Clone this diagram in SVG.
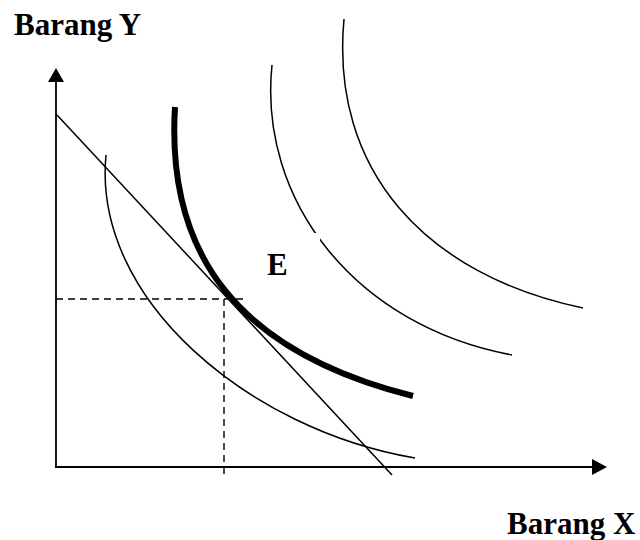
<svg xmlns="http://www.w3.org/2000/svg" width="640" height="540" viewBox="0 0 640 540">
<style>
.ax{stroke:#000;stroke-width:1.8;fill:none}
.thin{stroke:#000;stroke-width:1.5;fill:none}
.thick{stroke:#000;stroke-width:6;fill:none}
.dash{stroke:#000;stroke-width:1.4;fill:none;stroke-dasharray:7 5}
.lbl{font-family:"Liberation Serif","Times New Roman",serif;font-weight:bold;font-size:31px;fill:#000}
</style>
<rect width="640" height="540" fill="#fff"/>
<g id="connectors">
<g id="y-axis"><line class="ax" x1="56" y1="467" x2="56" y2="80"/><polygon points="56,68 48,82 64,82" fill="#000"/></g>
<g id="x-axis"><line class="ax" x1="55" y1="467" x2="594" y2="467"/><polygon points="607,467 592,459 592,475" fill="#000"/></g>
<line id="budget" class="thin" x1="57" y1="115" x2="392" y2="475"/>
<line id="dash-h" class="dash" x1="56" y1="299" x2="247" y2="299"/>
<line id="dash-v" class="dash" x1="224" y1="299" x2="224" y2="476"/>
</g>
<g id="curve1"><path class="thin" d="M106,155 C92,300 250,430 415,458"/></g>
<g id="curve2"><path class="thick" d="M175,107 C166,255 238,352 413,396"/></g>
<g id="curve3"><path class="thin" d="M272,65 C258,200 355,326 512,355"/></g>
<g id="curve4"><path class="thin" d="M344,19 C330,170 425,275 583,308"/></g>
<g id="label-E"><rect x="256" y="233" width="64" height="50" fill="#fff"/><text class="lbl" x="267" y="275">E</text></g>
<g id="label-Y"><text class="lbl" x="14" y="35">Barang Y</text></g>
<g id="label-X"><text class="lbl" x="507" y="534">Barang X</text></g>
</svg>
